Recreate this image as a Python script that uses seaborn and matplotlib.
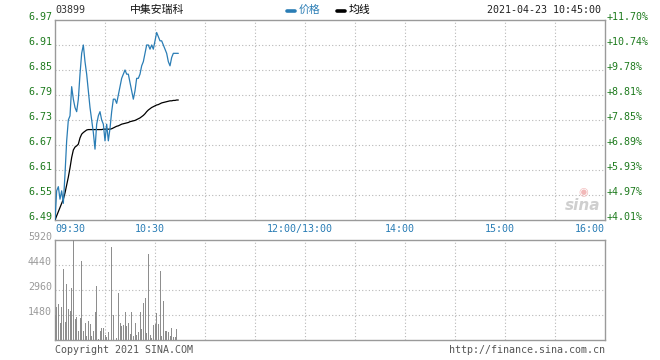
import numpy as np
import pandas as pd
import matplotlib
matplotlib.use("Agg")
import matplotlib.pyplot as plt
import matplotlib.transforms as mtransforms
from matplotlib.lines import Line2D
import seaborn as sns

# ---------------- data ----------------
code = "03899"
name = "中集安瑞科"
stamp = "2021-04-23 10:45:00"
prev_close = 6.24

price = [6.49, 6.56, 6.57, 6.54, 6.56, 6.53, 6.60, 6.68, 6.73, 6.74,
         6.81, 6.78, 6.76, 6.75, 6.78, 6.84, 6.89, 6.91, 6.87, 6.84,
         6.80, 6.76, 6.73, 6.70, 6.66, 6.72, 6.74, 6.75, 6.73, 6.72,
         6.68, 6.72, 6.68, 6.71, 6.75, 6.78, 6.78, 6.77, 6.79, 6.81,
         6.83, 6.84, 6.85, 6.84, 6.84, 6.82, 6.80, 6.78, 6.80, 6.83,
         6.83, 6.84, 6.86, 6.87, 6.89, 6.91, 6.91, 6.90, 6.91, 6.90,
         6.92, 6.94, 6.93, 6.92, 6.92, 6.91, 6.90, 6.89, 6.87, 6.86,
         6.88, 6.89, 6.89, 6.89, 6.89]

avg_price = [6.490, 6.500, 6.510, 6.520, 6.530, 6.540, 6.555, 6.574, 6.593, 6.615,
             6.640, 6.658, 6.665, 6.668, 6.672, 6.687, 6.696, 6.700, 6.703, 6.706,
             6.707, 6.707, 6.707, 6.707, 6.707, 6.707, 6.707, 6.707, 6.707, 6.708,
             6.708, 6.708, 6.708, 6.708, 6.709, 6.711, 6.713, 6.715, 6.716, 6.718,
             6.720, 6.721, 6.722, 6.723, 6.724, 6.726, 6.727, 6.728, 6.729, 6.731,
             6.733, 6.735, 6.738, 6.741, 6.745, 6.750, 6.754, 6.757, 6.760, 6.762,
             6.764, 6.766, 6.767, 6.769, 6.771, 6.772, 6.773, 6.774, 6.775, 6.776,
             6.776, 6.777, 6.777, 6.778, 6.778]

volume = [1500, 1954, 2131, 1006, 1954, 4203, 1060, 3315, 1835, 1717,
          3078, 5920, 1243, 1362, 513, 1302, 4696, 513, 1006, 257,
          1125, 947, 257, 513, 1657, 3197, 60, 533, 730, 718,
          296, 197, 473, 592, 5506, 1480, 3848, 99, 2782, 1006,
          809, 868, 1657, 809, 1006, 355, 1657, 217, 1006, 316,
          473, 1657, 670, 2190, 2486, 414, 5091, 276, 118, 868,
          947, 1598, 947, 4104, 217, 2329, 552, 513, 473, 217,
          710, 158, 158, 670]

price_ticks = [6.49, 6.55, 6.61, 6.67, 6.73, 6.79, 6.85, 6.91, 6.97]
vol_ticks = [1480, 2960, 4440, 5920]
time_ticks = [0, 60, 150, 210, 270, 330]
time_labels = ["09:30", "10:30", "12:00/13:00", "14:00", "15:00", "16:00"]
total_minutes = 330

# ---------------- style ----------------
sns.set_style("white")
mono = ["DejaVu Sans Mono", "Noto Sans CJK SC"]
cjk = ["Noto Sans CJK SC", "DejaVu Sans"]
plt.rcParams["font.family"] = mono

BLUE = "#2a7db5"
GREEN = "#1e7b1e"
GRAY = "#9a9a9a"
BAR = "#8e8e8e"
GRID = "#b8b8b8"
FS = 7.2

W, H = 660, 360
fig = plt.figure(figsize=(W / 100, H / 100), dpi=100)
ax1 = fig.add_axes([55 / W, 1 - 220 / H, 550 / W, 200 / H])
ax2 = fig.add_axes([55 / W, 1 - 340 / H, 550 / W, 100 / H])

df_p = pd.DataFrame({"t": np.arange(len(price)), "price": price, "avg": avg_price})
df_v = pd.DataFrame({"t": np.arange(len(volume)), "vol": volume})

grid_x = np.arange(30, total_minutes, 30)

for ax in (ax1, ax2):
    ax.set_xlim(0, total_minutes)
    for s in ax.spines.values():
        s.set_color(GRAY)
        s.set_linewidth(1.0)
        s.set_visible(True)
    for gx in grid_x:
        ax.axvline(gx, color=GRID, lw=0.8, ls=(0, (1, 2)), zorder=0)

# price panel
sns.lineplot(data=df_p, x="t", y="avg", ax=ax1, color="black", lw=0.9, zorder=3)
sns.lineplot(data=df_p, x="t", y="price", ax=ax1, color=BLUE, lw=0.9, zorder=4)
ax1.set_ylim(price_ticks[0], price_ticks[-1])
ax1.set_xlim(0, total_minutes)
for py in price_ticks[1:-1]:
    ax1.axhline(py, color=GRID, lw=0.8, ls=(0, (1, 2)), zorder=0)
ax1.set_xticks([]); ax1.set_yticks([])
ax1.set_xlabel(""); ax1.set_ylabel("")

tl = mtransforms.offset_copy(ax1.get_yaxis_transform(), fig=fig, x=-3, y=3, units="dots")
tr = mtransforms.offset_copy(ax1.get_yaxis_transform(), fig=fig, x=2, y=3, units="dots")
for py in price_ticks:
    ax1.text(0, py, f"{py:.2f}", transform=tl, ha="right", va="center",
             color=GREEN, fontsize=FS)
    ax1.text(1, py, f"+{(py / prev_close - 1) * 100:.2f}%", transform=tr,
             ha="left", va="center", color=GREEN, fontsize=FS)

# volume panel
sns.barplot(data=df_v, x="t", y="vol", ax=ax2, native_scale=True, color=BAR,
            errorbar=None, width=0.6, linewidth=0, saturation=1, zorder=3)
ax2.set_xlim(0, total_minutes)
ax2.set_ylim(0, vol_ticks[-1])
for vy in vol_ticks[:-1]:
    ax2.axhline(vy, color=GRID, lw=0.8, ls=(0, (1, 2)), zorder=0)
ax2.set_xticks([]); ax2.set_yticks([])
ax2.set_xlabel(""); ax2.set_ylabel("")
vl = mtransforms.offset_copy(ax2.get_yaxis_transform(), fig=fig, x=-3, y=3, units="dots")
for vy in vol_ticks:
    ax2.text(0, vy, f"{vy}", transform=vl, ha="right", va="center",
             color=GRAY, fontsize=FS)

# time labels between panels
tx = mtransforms.blended_transform_factory(ax1.transData, fig.transFigure)
for t, lab in zip(time_ticks, time_labels):
    if t == 0:
        ha, xx = "left", t
    elif t == total_minutes:
        ha, xx = "right", t
    else:
        ha, xx = "center", t - 3
    fig.text(xx, 1 - 229 / H, lab, transform=tx, ha=ha, va="center",
             color=BLUE, fontsize=FS)

# header
fig.text(55 / W, 1 - 10 / H, code, ha="left", va="center", color="#333333", fontsize=FS)
fig.text(130 / W, 1 - 10 / H, name, ha="left", va="center", color="#111111",
         fontsize=7.8, family=cjk)
fig.add_artist(Line2D([287 / W, 295 / W], [1 - 11 / H] * 2, color=BLUE, lw=2.6,
                      transform=fig.transFigure))
fig.text(299 / W, 1 - 10 / H, "价格", ha="left", va="center", color=BLUE,
         fontsize=7.8, family=cjk)
fig.add_artist(Line2D([337 / W, 345 / W], [1 - 11 / H] * 2, color="black", lw=2.6,
                      transform=fig.transFigure))
fig.text(349 / W, 1 - 10 / H, "均线", ha="left", va="center", color="black",
         fontsize=7.8, family=cjk)
fig.text(601 / W, 1 - 10 / H, stamp, ha="right", va="center", color="#222222", fontsize=FS)

# footer
fig.text(55 / W, 1 - 350 / H, "Copyright 2021 SINA.COM", ha="left", va="center",
         color="#555555", fontsize=FS)
fig.text(605 / W, 1 - 350 / H, "http://finance.sina.com.cn", ha="right", va="center",
         color="#555555", fontsize=FS)

# watermark
fig.text(583 / W, 1 - 206 / H, "sina", ha="center", va="center", color="#cfcfcf",
         fontsize=11, style="italic", fontweight="bold", family=["DejaVu Sans"])
fig.text(583 / W, 1 - 192 / H, "◉", ha="center", va="center", color="#f2b8b8",
         fontsize=8, family=["DejaVu Sans"])

fig.savefig("out.png", dpi=100)
